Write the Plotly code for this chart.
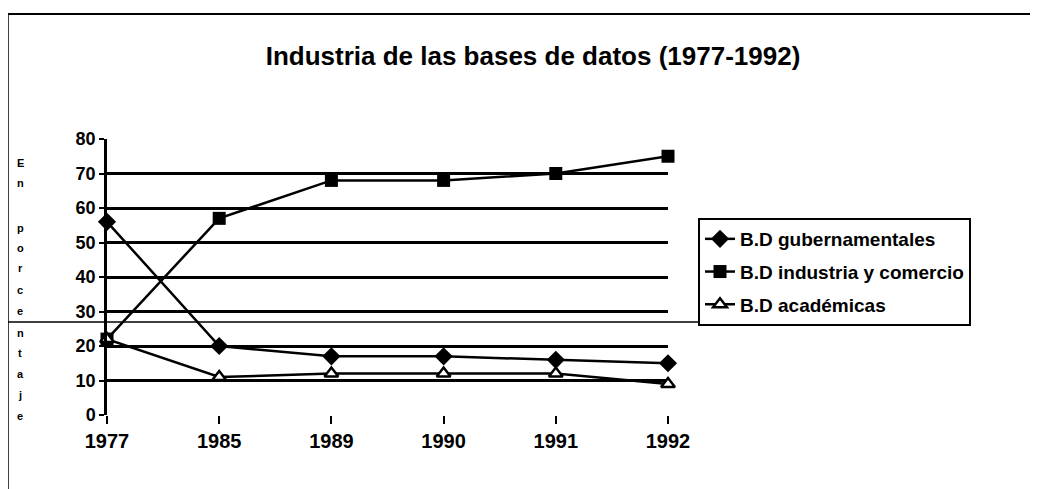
import plotly.graph_objects as go

years = ["1977", "1985", "1989", "1990", "1991", "1992"]
gubernamentales = [56, 20, 17, 17, 16, 15]
industria = [22, 57, 68, 68, 70, 75]
academicas = [22, 11, 12, 12, 12, 9]
series_names = ["B.D gubernamentales", "B.D industria y comercio", "B.D académicas"]
y_title = "En porcentaje"

OFF = 8  # default page body margin
W, H = 1038 - OFF, 489 - OFF
L, R, T, B = 107, 668, 139, 415  # plot area in page pixels


def px2x(p):
    return (p - L) / (R - L)


def px2y(p):
    return (B - p) / (B - T)


FONT = "Liberation Sans, Arial, sans-serif"

fig = go.Figure()
fig.add_trace(go.Scatter(
    x=years, y=gubernamentales, name=series_names[0], mode="lines+markers",
    line=dict(color="black", width=2.5),
    marker=dict(symbol="diamond", size=14, color="black"),
    cliponaxis=False, legendgroup="a"))
fig.add_trace(go.Scatter(
    x=years, y=industria, name=series_names[1], mode="lines+markers",
    line=dict(color="black", width=2.5),
    marker=dict(symbol="square", size=13, color="black"),
    cliponaxis=False, legendgroup="b"))
fig.add_trace(go.Scatter(
    x=years, y=academicas, name=series_names[2], mode="lines+markers",
    line=dict(color="black", width=2.5),
    marker=dict(symbol="triangle-up", size=12, color="white",
                line=dict(color="black", width=2.5)),
    cliponaxis=False, legendgroup="c"))

annotations = []
# stacked vertical axis title, one character per line
ys = [163, 183, 203, 228, 248, 268, 290, 311, 333, 353, 374, 395, 416]
for ch, py in zip(list(y_title), ys):
    if ch.strip():
        annotations.append(dict(
            text=ch, x=px2x(20), y=px2y(py), xref="paper", yref="paper",
            showarrow=False, xanchor="center", yanchor="middle",
            font=dict(family=FONT, size=11, color="black", weight="bold")))

shapes = [
    # scan frame lines
    dict(type="line", xref="paper", yref="paper", x0=px2x(5), x1=px2x(1040),
         y0=px2y(14), y1=px2y(14), line=dict(color="black", width=2)),
    dict(type="line", xref="paper", yref="paper", x0=px2x(8), x1=px2x(8),
         y0=px2y(14), y1=px2y(495), line=dict(color="black", width=1.5)),
    dict(type="line", xref="paper", yref="paper", x0=px2x(0), x1=px2x(698),
         y0=px2y(322), y1=px2y(322), line=dict(color="black", width=1.5)),
]

fig.update_layout(
    width=W, height=H,
    margin=dict(l=L - OFF, r=W - (R - OFF), t=T - OFF, b=H - (B - OFF), pad=0),
    paper_bgcolor="white", plot_bgcolor="white",
    font=dict(family=FONT, color="black"),
    title=dict(text="Industria de las bases de datos (1977-1992)",
               x=(533 - OFF) / W, xanchor="center",
               y=1 - (56 - OFF) / H, yanchor="middle",
               font=dict(family=FONT, size=26, color="black", weight="bold")),
    showlegend=True,
    legend=dict(x=px2x(698), y=px2y(218), xanchor="left", yanchor="top",
                bordercolor="black", borderwidth=2, bgcolor="white",
                traceorder="grouped", tracegroupgap=5,
                font=dict(family=FONT, size=19, color="black", weight="bold"),
                itemwidth=30),
    xaxis=dict(type="category", range=[0, 5], showgrid=False, zeroline=False,
               showline=False, ticks="outside", ticklen=8, tickwidth=2,
               tickcolor="black",
               tickfont=dict(family=FONT, size=20, color="black", weight="bold")),
    yaxis=dict(range=[0, 80], dtick=10, showgrid=True, gridcolor="black",
               gridwidth=3, zeroline=False, showline=True, linecolor="black",
               linewidth=2.5, ticks="outside", ticklen=5, tickwidth=2,
               tickcolor="black",
               tickfont=dict(family=FONT, size=18, color="black", weight="bold")),
    annotations=annotations,
    shapes=shapes,
)

fig.write_html("out.html")
